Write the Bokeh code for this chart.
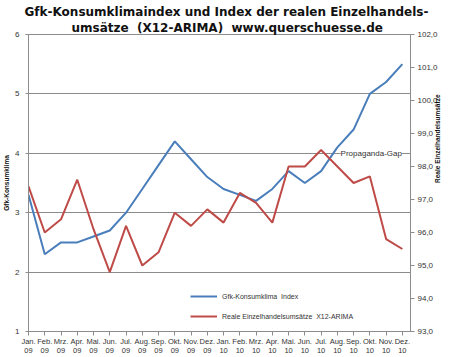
import math
from bokeh.plotting import figure
from bokeh.models import (Range1d, LinearAxis, FixedTicker, Label, Title,
                          ColumnDataSource, Legend, LegendItem)
from bokeh.embed import file_html
from bokeh.resources import INLINE

# ---- data ----
months = ["Jan.", "Feb.", "Mrz.", "Apr.", "Mai.", "Jun.", "Jul.", "Aug.",
          "Sep.", "Okt.", "Nov.", "Dez."] * 2
years = ["09"] * 12 + ["10"] * 12
gfk = [3.3, 2.3, 2.5, 2.5, 2.6, 2.7, 3.0, 3.4, 3.8, 4.2, 3.9, 3.6,
       3.4, 3.3, 3.2, 3.4, 3.7, 3.5, 3.7, 4.1, 4.4, 5.0, 5.2, 5.5]
retail = [97.4, 96.0, 96.4, 97.6, 96.1, 94.8, 96.2, 95.0, 95.4, 96.6, 96.2, 96.7,
          96.3, 97.2, 96.9, 96.3, 98.0, 98.0, 98.5, 98.0, 97.5, 97.7, 95.8, 95.5]
left_ticks = [1, 2, 3, 4, 5, 6]
right_ticks = [93, 94, 95, 96, 97, 98, 99, 100, 101, 102]
title_lines = ["Gfk-Konsumklimaindex und Index der realen Einzelhandels-",
               "umsätze \u00a0(X12-ARIMA) \u00a0www.querschuesse.de"]
left_label = "Gfk-Konsumklima"
right_label = "Reale Einzelhandelsumsätze"
series_names = ["Gfk-Konsumklima  Index", "Reale Einzelhandelsumsätze  X12-ARIMA"]
note_text = "Propaganda-Gap"

idx = list(range(len(gfk)))
src = ColumnDataSource(dict(x=idx, gfk=gfk, retail=retail))

BLUE = "#4a7ebb"
RED = "#be4b48"
GRID = "#8c8c8c"
TXT = "#333333"
FONT = "Liberation Sans"

p = figure(width=450, height=357, output_backend="svg", toolbar_location=None,
           x_range=Range1d(0, 23.5), y_range=Range1d(left_ticks[0], left_ticks[-1]),
           min_border_left=25, min_border_right=40, min_border_top=34,
           min_border_bottom=26)
p.title.visible = False
p.extra_y_ranges = {"r": Range1d(right_ticks[0], right_ticks[-1])}
p.background_fill_color = "white"
p.border_fill_color = "white"
p.outline_line_color = GRID

# titles (inner line first)
p.add_layout(Title(text=title_lines[1], align="left", text_font="DejaVu Sans",
                   text_font_style="bold", text_font_size="12px",
                   text_color="#111111", standoff=0, offset=43), "above")
p.add_layout(Title(text=title_lines[0], align="left", text_font="DejaVu Sans",
                   text_font_style="bold", text_font_size="12px",
                   text_color="#111111", standoff=0, offset=-4), "above")

# x axis
p.xaxis.ticker = FixedTicker(ticks=idx)
p.xaxis.major_label_overrides = {i: f"{m}\n{y}" for i, m, y in zip(idx, months, years)}
p.xaxis.major_label_text_font = FONT
p.xaxis.major_label_text_font_size = "7.5px"
p.xaxis.major_label_text_line_height = 1.05
p.xaxis.major_label_text_color = TXT
p.xaxis.major_label_standoff = 1
p.xaxis.major_tick_out = 4
p.xaxis.major_tick_in = 0
p.xaxis.minor_tick_line_color = None
p.xaxis.axis_line_color = GRID
p.xaxis.major_tick_line_color = GRID
p.xgrid.visible = False

# left axis
p.yaxis.ticker = FixedTicker(ticks=left_ticks)
p.yaxis.major_tick_out = 3
p.yaxis.major_tick_in = 0
p.yaxis.minor_tick_line_color = None
p.yaxis.axis_line_color = GRID
p.yaxis.major_tick_line_color = GRID
p.yaxis.major_label_standoff = 6
p.yaxis.major_label_text_font = FONT
p.yaxis.major_label_text_font_size = "8px"
p.yaxis.major_label_text_color = TXT
p.yaxis.axis_label = left_label
p.yaxis.axis_label_text_font = FONT
p.yaxis.axis_label_text_font_style = "bold"
p.yaxis.axis_label_text_font_size = "6.5px"
p.yaxis.axis_label_text_color = "#111111"
p.yaxis.axis_label_standoff = 2
p.ygrid.ticker = FixedTicker(ticks=left_ticks)
p.ygrid.grid_line_color = GRID

# right axis
ra = LinearAxis(y_range_name="r", ticker=FixedTicker(ticks=right_ticks))
ra.major_label_overrides = {t: f"{t:.1f}".replace(".", ",") for t in right_ticks}
ra.major_tick_out = 4
ra.major_tick_in = 0
ra.minor_tick_line_color = None
ra.axis_line_color = GRID
ra.major_tick_line_color = GRID
ra.major_label_standoff = 3
ra.major_label_text_font = FONT
ra.major_label_text_font_size = "8px"
ra.major_label_text_color = TXT
ra.axis_label = right_label
ra.axis_label_text_font = FONT
ra.axis_label_text_font_style = "bold"
ra.axis_label_text_font_size = "6.5px"
ra.axis_label_text_color = "#111111"
ra.axis_label_standoff = -3
ra.axis_label_orientation = math.pi / 2
p.add_layout(ra, "right")

# lines
lb = p.line("x", "gfk", source=src, line_color=BLUE, line_width=2)
lr = p.line("x", "retail", source=src, line_color=RED, line_width=2, y_range_name="r")

# annotation
p.add_layout(Label(x=19.2, y=4.0, text=note_text, text_align="left",
                   text_baseline="middle", text_font=FONT, text_font_size="8px",
                   text_color=TXT, background_fill_color="white"))

# legend
legend = Legend(items=[LegendItem(label=series_names[0], renderers=[lb]),
                       LegendItem(label=series_names[1], renderers=[lr])],
                location=(162, 9), orientation="vertical",
                label_text_font=FONT, label_text_font_size="7px", label_text_color=TXT,
                glyph_width=27, glyph_height=12, label_height=12, label_standoff=5,
                spacing=8, padding=0, border_line_color=None, background_fill_alpha=0)
p.add_layout(legend)

open("out.html", "w").write(file_html(p, INLINE))
